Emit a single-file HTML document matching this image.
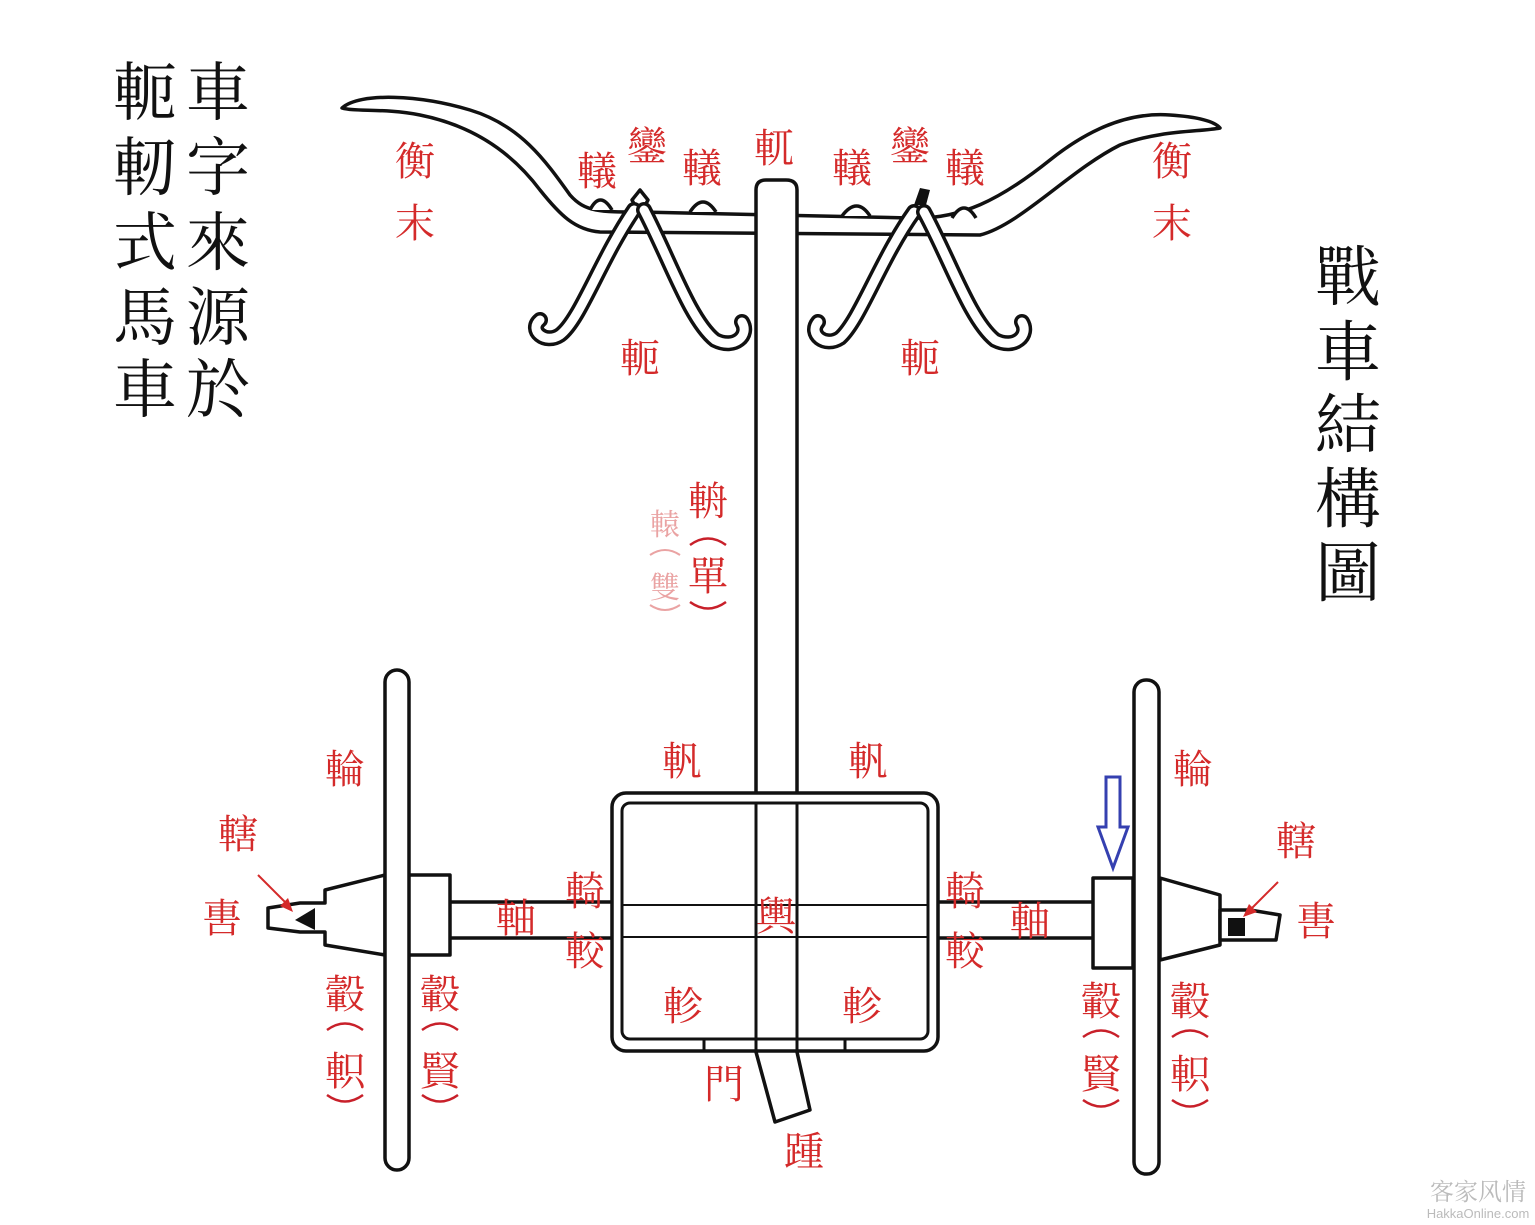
<!DOCTYPE html><html><head><meta charset="utf-8"><style>
html,body{margin:0;padding:0;background:#fff;}
svg{display:block}
.r{fill:#d42a2a;font-family:"Liberation Serif","Noto Serif CJK SC","Noto Sans CJK TC",serif;font-size:40px;text-anchor:middle}
.b{fill:#111;font-family:"Liberation Serif","Noto Serif CJK SC",serif;font-size:64px;text-anchor:middle}
.l{fill:#fff;stroke:#111;stroke-width:3.5;stroke-linejoin:round}
.p{fill:none;stroke:#c8202a;stroke-width:2.5}
.pf{fill:none;stroke:#eaa3a3;stroke-width:2}
</style></head><body>
<svg width="1535" height="1225" viewBox="0 0 1535 1225" xmlns="http://www.w3.org/2000/svg">
<path class="l" d="M342,108 C360,92 420,95 470,110 C520,125 545,160 570,195 C585,212 600,212 640,212 L910,218 C960,220 1000,200 1050,160 C1090,128 1130,112 1170,115 C1200,117 1215,122 1220,128 C1200,132 1160,130 1120,145 C1070,170 1020,225 980,235 L600,232 C575,230 560,215 540,190 C510,150 470,125 420,115 C385,108 355,112 342,108 Z"/>
<path class="l" d="M590,210 Q600,190 612,210"/><path class="l" d="M690,212 Q703,192 716,212"/>
<path class="l" d="M842,216 Q857,196 870,216"/><path class="l" d="M952,218 Q964,198 976,218"/>
<path class="l" d="M756,1052 L756,190 Q756,180 766,180 L786,180 Q797,180 797,190 L797,1052 L810,1110 L775,1122 Z"/>
<path class="l" d="M632,200 L640,190 L648,200 L640,215 Z"/>
<path d="M634,210 C600,260 580,320 560,335 C545,345 528,330 540,320" fill="none" stroke="#111" stroke-width="16" stroke-linecap="round"/>
<path d="M634,210 C600,260 580,320 560,335 C545,345 528,330 540,320" fill="none" stroke="#fff" stroke-width="9" stroke-linecap="round"/>
<path d="M644,210 C670,260 690,320 715,340 C735,350 750,335 742,322" fill="none" stroke="#111" stroke-width="16" stroke-linecap="round"/>
<path d="M644,210 C670,260 690,320 715,340 C735,350 750,335 742,322" fill="none" stroke="#fff" stroke-width="9" stroke-linecap="round"/>
<path d="M914,205 L920,188 L930,190 L926,205 Z" fill="#111"/>
<path d="M914,212 C880,260 860,320 840,338 C825,348 808,334 818,322" fill="none" stroke="#111" stroke-width="16" stroke-linecap="round"/>
<path d="M914,212 C880,260 860,320 840,338 C825,348 808,334 818,322" fill="none" stroke="#fff" stroke-width="9" stroke-linecap="round"/>
<path d="M924,212 C950,260 970,320 995,340 C1015,350 1030,335 1022,322" fill="none" stroke="#111" stroke-width="16" stroke-linecap="round"/>
<path d="M924,212 C950,260 970,320 995,340 C1015,350 1030,335 1022,322" fill="none" stroke="#fff" stroke-width="9" stroke-linecap="round"/>
<rect class="l" x="445" y="902" width="655" height="36"/>
<rect x="612" y="793" width="326" height="258" rx="14" fill="#fff" stroke="#111" stroke-width="3.5"/>
<rect x="622" y="803" width="306" height="236" rx="8" fill="none" stroke="#111" stroke-width="3"/>
<line x1="622" y1="905" x2="928" y2="905" stroke="#111" stroke-width="2"/>
<line x1="622" y1="937" x2="928" y2="937" stroke="#111" stroke-width="2"/>
<line x1="756" y1="803" x2="756" y2="1050" stroke="#111" stroke-width="3"/>
<line x1="797" y1="803" x2="797" y2="1050" stroke="#111" stroke-width="3"/>
<line x1="704" y1="1040" x2="704" y2="1050" stroke="#111" stroke-width="3"/>
<line x1="845" y1="1040" x2="845" y2="1050" stroke="#111" stroke-width="3"/>
<path class="l" d="M268,908 L300,903 L325,903 L325,890 L385,875 L385,955 L325,945 L325,932 L300,932 L268,928 Z"/>
<path d="M295,920 L315,908 L315,930 Z" fill="#111"/>
<rect class="l" x="405" y="875" width="45" height="80"/>
<rect class="l" x="385" y="670" width="24" height="500" rx="12"/>
<rect class="l" x="1093" y="878" width="40" height="90"/>
<path class="l" d="M1160,878 L1220,895 L1220,945 L1160,960 Z"/>
<path class="l" d="M1220,910 L1250,910 L1280,915 L1276,940 L1220,940 Z"/>
<path d="M1228,918 L1245,918 L1245,936 L1228,936 Z" fill="#111"/>
<rect class="l" x="1134" y="680" width="25" height="494" rx="12"/>
<path d="M1106,777 L1120,777 L1120,827 L1128,827 L1113,868 L1098,827 L1106,827 Z" fill="none" stroke="#3540b0" stroke-width="3"/>
<line x1="258" y1="875" x2="290" y2="907" stroke="#d42a2a" stroke-width="2"/><path d="M293,912 L280,906 L288,898 Z" fill="#d42a2a"/>
<line x1="1278" y1="882" x2="1248" y2="912" stroke="#d42a2a" stroke-width="2"/><path d="M1243,917 L1249,904 L1257,912 Z" fill="#d42a2a"/>
<g class="b"><text x="218" y="115">車</text><text x="218" y="190">字</text><text x="218" y="265">來</text><text x="218" y="340">源</text><text x="218" y="412">於</text>
<text x="145" y="115">軛</text><text x="145" y="190">軔</text><text x="145" y="265">式</text><text x="145" y="340">馬</text><text x="145" y="412">車</text>
<g style="font-size:66px"><text x="1348" y="300">戰</text><text x="1348" y="375">車</text><text x="1348" y="448">結</text><text x="1348" y="522">構</text><text x="1348" y="596">圖</text></g></g>
<g class="r">
<text x="415" y="175">衡</text><text x="415" y="237">末</text><text x="1172" y="175">衡</text><text x="1172" y="237">末</text>
<text x="597" y="185">轙</text><text x="647" y="160">鑾</text><text x="702" y="182">轙</text><text x="774" y="162">軏</text>
<text x="852" y="182">轙</text><text x="910" y="160">鑾</text><text x="965" y="182">轙</text>
<text x="640" y="372">軛</text><text x="920" y="372">軛</text>
<text x="708" y="515">輈</text><text x="708" y="590">單</text>
<text x="665" y="535" style="fill:#eaa3a3;font-size:30px">轅</text><text x="665" y="598" style="fill:#eaa3a3;font-size:30px">雙</text>
<text x="345" y="783">輪</text><text x="1193" y="783">輪</text>
<text x="682" y="775">軓</text><text x="868" y="775">軓</text>
<text x="238" y="848">轄</text><text x="222" y="932">軎</text><text x="1296" y="855">轄</text><text x="1316" y="935">軎</text>
<text x="516" y="932">軸</text><text x="1030" y="935">軸</text>
<text x="585" y="905">輢</text><text x="585" y="965">較</text><text x="965" y="905">輢</text><text x="965" y="965">較</text>
<text x="776" y="930">輿</text>
<text x="683" y="1020">軫</text><text x="862" y="1020">軫</text>
<text x="724" y="1098">門</text><text x="804" y="1165">踵</text>
<text x="345" y="1008">轂</text><text x="345" y="1085">軹</text>
<text x="440" y="1008">轂</text><text x="440" y="1085">賢</text>
<text x="1101" y="1015">轂</text><text x="1101" y="1088">賢</text>
<text x="1190" y="1015">轂</text><text x="1190" y="1088">軹</text>
</g>
<!-- vertical parentheses -->
<path class="p" d="M690,545 Q708,532 726,545"/><path class="p" d="M690,602 Q708,615 726,602"/>
<path class="pf" d="M650,555 Q665,545 680,555"/><path class="pf" d="M650,605 Q665,615 680,605"/>
<path class="p" d="M327,1030 Q345,1017 363,1030"/><path class="p" d="M327,1095 Q345,1108 363,1095"/>
<path class="p" d="M422,1030 Q440,1017 458,1030"/><path class="p" d="M422,1095 Q440,1108 458,1095"/>
<path class="p" d="M1083,1037 Q1101,1024 1119,1037"/><path class="p" d="M1083,1100 Q1101,1113 1119,1100"/>
<path class="p" d="M1172,1037 Q1190,1024 1208,1037"/><path class="p" d="M1172,1100 Q1190,1113 1208,1100"/>
<text x="1478" y="1200" style="font-family:'Noto Serif CJK SC',serif;font-size:24px;fill:#bbb;text-anchor:middle">客家风情</text>
<text x="1478" y="1218" style="font-family:'Liberation Sans',sans-serif;font-size:13px;fill:#bbb;text-anchor:middle">HakkaOnline.com</text>
</svg>
</body></html>
